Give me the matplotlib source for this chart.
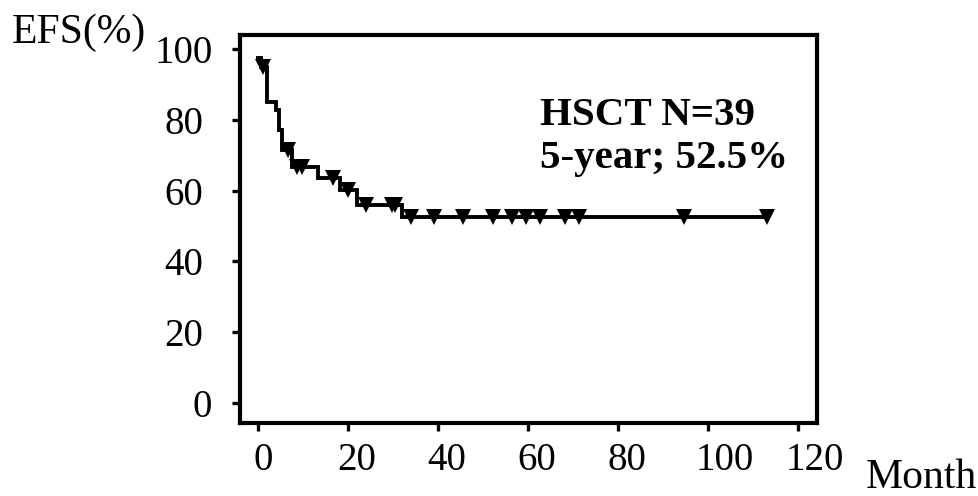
import numpy as np
import matplotlib
matplotlib.use("Agg")
import matplotlib.pyplot as plt
from matplotlib.transforms import ScaledTranslation

plt.rcParams['font.family'] = ['Liberation Serif', 'DejaVu Serif']

# Kaplan-Meier steps
step_times = [0, 0.6, 2.1, 4.1, 4.7, 5.3, 7.5, 13.4, 18.2, 22.1, 32.1]
step_efs = [97.4, 94.9, 85.1, 82.8, 77.1, 71.5, 66.7, 63.5, 60.2, 55.9, 52.5]
end_time = 113.0
censor_times = [1.2, 6.7, 8.6, 9.7, 16.7, 20.1, 24.1, 29.7, 30.4, 34.0, 39.0,
                45.5, 52.3, 56.4, 59.6, 62.7, 68.2, 71.3, 94.7, 113.0]
x_ticks = [0, 20, 40, 60, 80, 100, 120]
y_ticks = [0, 20, 40, 60, 80, 100]

fig = plt.figure(figsize=(9.79, 4.96), dpi=100)
ax = fig.add_axes([240 / 979, 1 - 423 / 496, 577 / 979, 388 / 496])

t = np.append(step_times, end_time)
s = np.append(step_efs, step_efs[-1])
ax.step(t, s, where='post', color='black', lw=2.8, solid_joinstyle='miter')

idx = np.searchsorted(step_times, censor_times, side='right') - 1
censor_efs = np.array(step_efs)[idx]
ax.plot(censor_times, censor_efs, 'v', color='black', ms=11, mew=0)

ax.set_xlim(-4.0, 124.2)
ax.set_ylim(-5.65, 103.95)
ax.set_xticks(x_ticks)
ax.set_yticks(y_ticks)
ax.tick_params(labelsize=28, width=2.4, length=6, direction='out')
ax.tick_params(axis='y', pad=13.5)
ax.tick_params(axis='x', pad=8)
for sp in ax.spines.values():
    sp.set_linewidth(3.0)

# the original software places tick labels a bit irregularly (pixel shifts)
def shift(px):
    return ScaledTranslation(px / 100, 0, fig.dpi_scale_trans)

for tick, v in zip(ax.yaxis.get_major_ticks(), y_ticks):
    dx = -1 if v == 0 else (0 if v == 100 else -10)
    tick.label1.set_transform(tick.label1.get_transform() + shift(dx))
for tick, v in zip(ax.xaxis.get_major_ticks(), x_ticks):
    dx = 5 if v == 0 else (17 if v >= 100 else 9)
    tick.label1.set_transform(tick.label1.get_transform() + shift(dx))

fig.text(12 / 979, 1 - 43 / 496, 'EFS(%)', fontsize=30, va='baseline', ha='left')
fig.text(866 / 979, 1 - 488 / 496, 'Month', fontsize=30, va='baseline', ha='left')

ax.text(540 / 979, 1 - 125 / 496, 'HSCT N=39', transform=fig.transFigure,
        fontsize=29.5, fontweight='bold', va='baseline', ha='left')
ax.text(540 / 979, 1 - 168 / 496, '5-year; 52.5%', transform=fig.transFigure,
        fontsize=29.5, fontweight='bold', va='baseline', ha='left')

fig.savefig('out.png', dpi=100)
